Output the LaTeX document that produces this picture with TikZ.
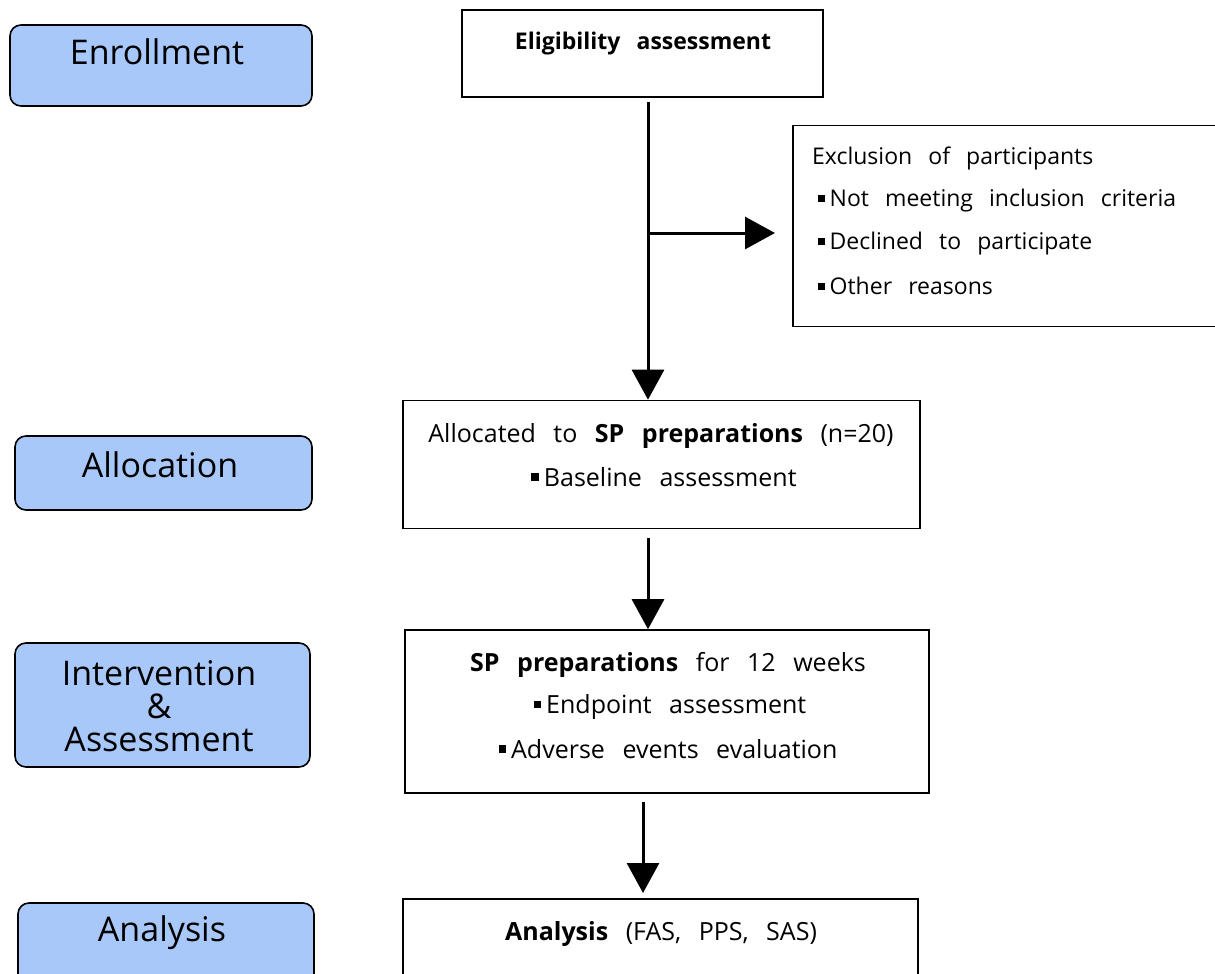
\documentclass[tikz,border=0pt]{standalone}
\usepackage{fontspec}
\setmainfont{Open Sans}[WordSpace=2.7]
\newfontfamily\labelfont{Open Sans}
\usetikzlibrary{arrows.meta}
\definecolor{stageblue}{RGB}{168,200,250}
\newcommand{\bul}{\raisebox{0.22em}{\rule{0.3em}{0.3em}}\hspace{0.2em}}
\tikzset{
  stage/.style={draw=black, line width=1.6pt, fill=stageblue, rounded corners=11pt, inner sep=0pt},
  flowbox/.style={draw=black, line width=1.6pt, inner sep=0pt},
  stagetext/.style={font=\labelfont\fontsize{34}{36}\selectfont, align=center, inner sep=0pt},
  bodytext/.style={font=\fontsize{23}{28}\selectfont, inner sep=0pt},
  boxtext/.style={font=\fontsize{25}{30}\selectfont, inner sep=0pt},
  flowarrow/.style={line width=3pt, -{Triangle[width=32pt,length=30pt]}},
}
\begin{document}
\begin{tikzpicture}[x=1pt,y=-1pt]
\useasboundingbox (0,0) rectangle (1215,974);
% stage boxes
\node[stage, minimum width=302pt, minimum height=81pt] (enr) at (161,65.5) {};
\node[stagetext] (enrt) at (157,52) {Enrollment};
\node[stage, minimum width=297pt, minimum height=74pt] (allo) at (163.5,473) {};
\node[stagetext] (allot) at (160,465) {Allocation};
\node[stage, minimum width=295pt, minimum height=124pt] (intv) at (162.5,705) {};
\node[stagetext, font=\labelfont\fontsize{34}{35}\selectfont] (intvt) at (159,706) {Intervention\\[-2pt]\&\\[-2pt]Assessment};
\node[stage, minimum width=296pt, minimum height=100pt] (anl) at (166,953) {};
\node[stagetext] (anlt) at (162,933) {Analysis};
% flow boxes
\node[flowbox, minimum width=361pt, minimum height=87pt] (elig) at (642.5,53.5) {};
\node[bodytext, font=\bfseries\fontsize{23}{28}\selectfont] (eligt) at (643,44) {Eligibility assessment};
\node[flowbox, minimum width=440pt, minimum height=201pt, anchor=north west] (excl) at (792,124.5) {};
\node[bodytext, anchor=west] (ex0) at (812,158) {Exclusion of participants};
\node[bodytext, anchor=west] (ex1) at (818,201) {\bul Not meeting inclusion criteria};
\node[bodytext, anchor=west] (ex2) at (818,244) {\bul Declined to participate};
\node[bodytext, anchor=west] (ex3) at (818,286) {\bul Other reasons};
\node[flowbox, minimum width=517pt, minimum height=128pt] (alloc) at (661.5,464.5) {};
\node[boxtext] (al1) at (661,436) {Allocated to \textbf{SP preparations} (n=20)};
\node[boxtext] (al2) at (664,477) {\bul Baseline assessment};
\node[flowbox, minimum width=524pt, minimum height=163pt] (interv) at (667,711.5) {};
\node[boxtext] (in1) at (668,665) {\textbf{SP preparations} for 12 weeks};
\node[boxtext] (in2) at (670,707) {\bul Endpoint assessment};
\node[boxtext] (in3) at (668,749) {\bul Adverse events evaluation};
\node[flowbox, minimum width=515pt, minimum height=100pt, anchor=north] (anal) at (660.5,898) {};
\node[boxtext] (an1) at (661,934) {\textbf{Analysis} (FAS, PPS, SAS)};
% connectors
\coordinate (s1) at (648,102);
\coordinate (br) at (648,233);
\draw[flowarrow] (s1) -- (s1 |- alloc.north);
\draw[flowarrow, shorten >=17pt] (br) -- (br -| excl.west);
\coordinate (s2) at (648,538);
\draw[flowarrow] (s2) -- (s2 |- interv.north);
\coordinate (s3) at (643,802);
\draw[flowarrow] (s3) -- ([yshift=5pt]s3 |- anal.north);
\end{tikzpicture}
\end{document}
